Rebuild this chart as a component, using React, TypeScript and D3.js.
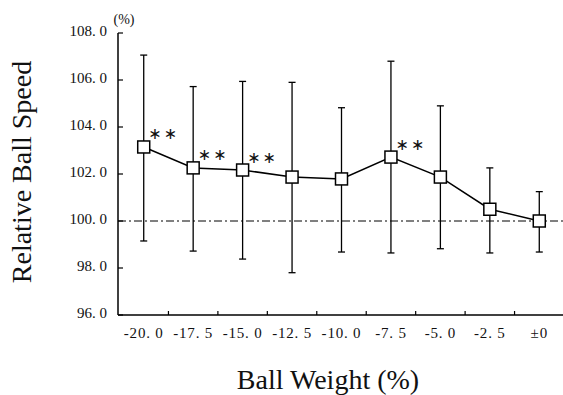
import * as d3 from "d3";
import React from "react";

// ball weight change (%) and relative ball speed (%)
const categories = ["-20. 0", "-17. 5", "-15. 0", "-12. 5", "-10. 0", "-7. 5", "-5. 0", "-2. 5", "±0"];
const means = [103.15, 102.26, 102.17, 101.87, 101.79, 102.72, 101.87, 100.5, 100.0];
const upper = [107.06, 105.72, 105.94, 105.9, 104.82, 106.8, 104.9, 102.26, 101.25];
const lower = [99.15, 98.72, 98.38, 97.8, 98.68, 98.64, 98.82, 98.64, 98.68];
const signif = [true, true, true, false, false, true, false, false, false];
const yTicks = [96, 98, 100, 102, 104, 106, 108];

const W = 563, H = 395;
const left = 118, right = 564, top = 33, bottom = 315;

const App: React.FC = () => {
    const x = d3.scaleBand<string>().domain(categories).range([left + 1, right]).padding(0);
    const y = d3.scaleLinear().domain([96, 108]).range([bottom, top]);
    const cx = (i: number) => (x(categories[i]) ?? 0) + x.bandwidth() / 2;
    const line = d3.line<number>().x((_, i) => cx(i)).y(d => y(d));
    const fmt = (v: number) => v.toFixed(1).replace(".", ". ");
    const serif = "'Liberation Serif', 'Times New Roman', serif";

    return (
        <svg width={W} height={H} style={{ position: "absolute", left: 0, top: 0, background: "#fff" }} fontFamily={serif}>
            {/* 100% reference line */}
            <line x1={left} x2={W} y1={y(100)} y2={y(100)} stroke="#000" strokeWidth={1} strokeDasharray="8 3 2 3" />

            {/* axes */}
            <line x1={left} x2={left} y1={top} y2={bottom} stroke="#000" strokeWidth={1.5} />
            <line x1={left} x2={W} y1={bottom} y2={bottom} stroke="#000" strokeWidth={1.5} />
            {yTicks.map(t => (
                <g key={t}>
                    <line x1={left} x2={left + 5} y1={y(t)} y2={y(t)} stroke="#000" strokeWidth={1.2} />
                    <text x={107} y={y(t)} textAnchor="end" dominantBaseline="middle" fontSize={15} fill="#111">{fmt(t)}</text>
                </g>
            ))}
            {categories.slice(1).map(c => (
                <line key={c} x1={x(c)!} x2={x(c)!} y1={bottom} y2={bottom - 4} stroke="#000" strokeWidth={1.2} />
            ))}
            {categories.map((c, i) => (
                <text key={c} x={cx(i)} y={338} textAnchor="middle" fontSize={15} letterSpacing={0.8} fill="#111">{c}</text>
            ))}
            <text x={124} y={24} textAnchor="middle" fontSize={14} fill="#111">(%)</text>

            {/* error bars */}
            {categories.map((c, i) => (
                <g key={c} stroke="#000" strokeWidth={1.3}>
                    <line x1={cx(i)} x2={cx(i)} y1={y(upper[i])} y2={y(lower[i])} />
                    <line x1={cx(i) - 3.5} x2={cx(i) + 3.5} y1={y(upper[i])} y2={y(upper[i])} />
                    <line x1={cx(i) - 3.5} x2={cx(i) + 3.5} y1={y(lower[i])} y2={y(lower[i])} />
                </g>
            ))}

            <path d={line(means)!} fill="none" stroke="#000" strokeWidth={1.5} />
            {means.map((m, i) => (
                <rect key={i} x={cx(i) - 6} y={y(m) - 6} width={12} height={12} fill="#fff" stroke="#000" strokeWidth={1.5} />
            ))}
            {means.map((m, i) => signif[i] ? (
                <text key={i} x={cx(i) + 20} y={y(m) - 12} textAnchor="middle" dominantBaseline="middle"
                    fontFamily="'DejaVu Sans', sans-serif" fontSize={16} letterSpacing={2} fill="#111">∗∗</text>
            ) : null)}

            {/* axis titles */}
            <text transform={`translate(31,172) rotate(-90)`} textAnchor="middle" fontSize={28} fill="#111">Relative Ball Speed</text>
            <text x={328} y={389} textAnchor="middle" fontSize={28} fill="#111">Ball Weight (%)</text>
        </svg>
    );
};

export default App;
